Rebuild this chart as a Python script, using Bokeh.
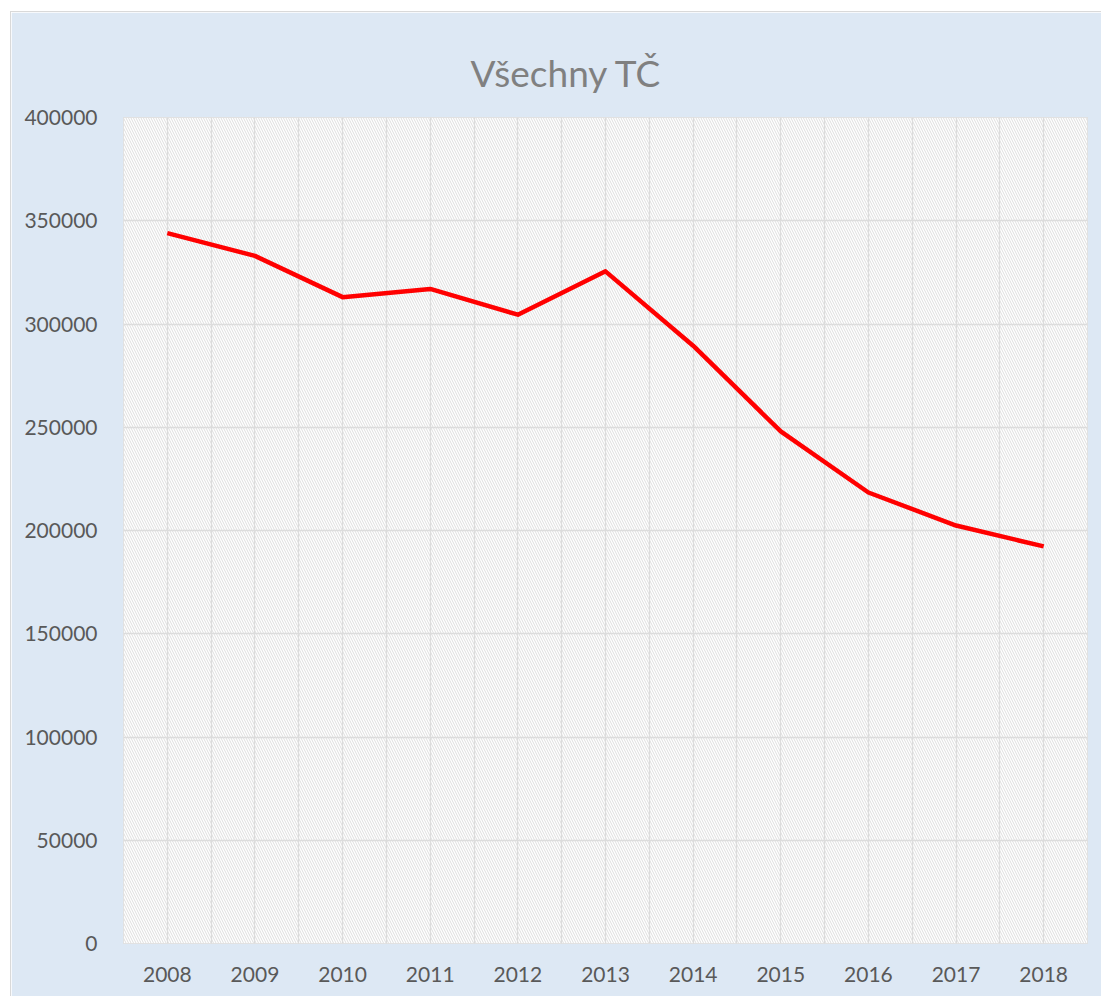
from bokeh.plotting import figure
from bokeh.models import BoxAnnotation, FixedTicker, NumeralTickFormatter, Range1d
from bokeh.embed import file_html
from bokeh.resources import INLINE

title_text = "Všechny TČ"
years = [2008, 2009, 2010, 2011, 2012, 2013, 2014, 2015, 2016, 2017, 2018]
values = [344000, 333000, 313000, 317000, 304500, 325500, 289500, 248000, 218400, 202400, 192300]
y_ticks = [0, 50000, 100000, 150000, 200000, 250000, 300000, 350000, 400000]

FONT = "Lato"
BLUE = "#dde8f4"

x0, x1 = years[0] - 0.5, years[-1] + 0.5
y0, y1 = y_ticks[0], y_ticks[-1]

p = figure(width=1091, height=985, output_backend="svg", toolbar_location=None,
           x_range=Range1d(x0, x1), y_range=Range1d(y0, y1),
           min_border_left=112, min_border_right=15, min_border_bottom=54, min_border_top=105)
p.styles = {"margin-left": "10px", "margin-top": "11px",
            "border-left": "1px solid #d9d9d9", "border-top": "1px solid #d9d9d9"}

p.title.text = title_text
p.title.align = "left"
p.title.offset = 347
p.title.text_font = FONT
p.title.text_font_size = "37px"
p.title.text_font_style = "normal"
p.title.text_color = "#808080"
p.title.vertical_align = "middle"
p.title.standoff = 43

p.background_fill_color = "white"
p.border_fill_color = BLUE
p.outline_line_color = "#d9d9d9"
p.outline_line_width = 1

hatch = BoxAnnotation(left=x0, right=x1, bottom=y0, top=y1,
                      fill_color="white", fill_alpha=1.0,
                      line_alpha=0,
                      hatch_pattern="left_diagonal_line", hatch_color="#dedede",
                      hatch_scale=5, hatch_weight=1.0, level="image")
p.add_layout(hatch)

p.line(years, values, line_color="#ff0000", line_width=4.5, line_join="round")

half_ticks = []
for yv in years:
    half_ticks.append(yv - 0.5)
    half_ticks.append(yv)
half_ticks.append(years[-1] + 0.5)

p.xgrid.ticker = FixedTicker(ticks=half_ticks)
p.ygrid.ticker = FixedTicker(ticks=y_ticks)
for g in (p.xgrid, p.ygrid):
    g.grid_line_color = "#dcdcdc"
    g.grid_line_width = 1.3

p.xaxis.ticker = FixedTicker(ticks=years)
p.yaxis.ticker = FixedTicker(ticks=y_ticks)
p.yaxis.formatter = NumeralTickFormatter(format="0")
for ax in (p.xaxis, p.yaxis):
    ax.axis_line_color = None
    ax.major_tick_line_color = None
    ax.minor_tick_line_color = None
    ax.major_label_text_font = FONT
    ax.major_label_text_font_size = "21px"
    ax.major_label_text_color = "#595959"
p.xaxis.major_label_standoff = 17
p.yaxis.major_label_standoff = 20

open("out.html", "w").write(file_html(p, INLINE))
